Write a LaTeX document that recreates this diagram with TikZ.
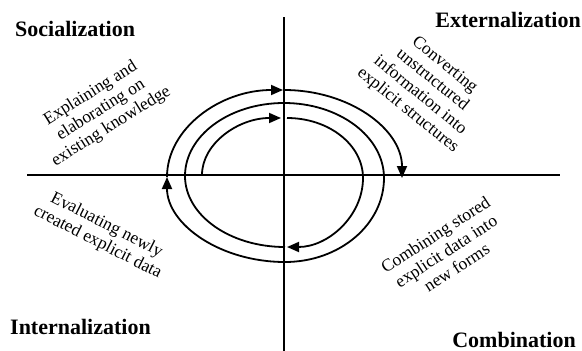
\documentclass[tikz,border=0pt]{standalone}
\usepackage{fontspec}
\setmainfont{Liberation Serif}
\usetikzlibrary{arrows.meta}
\tikzset{
  axisline/.style={line width=1.6pt},
  spiral/.style={line width=1.8pt},
  tipped/.style={spiral, -{Triangle[length=12pt,width=10pt]}},
  quadlabel/.style={font=\fontsize{22}{24}\selectfont\bfseries, inner sep=0pt},
  desc/.style={font=\fontsize{17.5}{19.5}\selectfont, align=center, inner sep=0pt}
}
\begin{document}
\begin{tikzpicture}[x=1pt,y=-1pt]
\useasboundingbox (0,0) rectangle (582,351);
% axes
\coordinate (vt) at (284,17);
\coordinate (vb) at (284,351);
\coordinate (hl) at (27,175);
\coordinate (hr) at (560,175);
\draw[axisline] (vt) -- (vb);
\draw[axisline] (hl) -- (hr);
% spiral key points
\coordinate (L0) at (202,175);
\coordinate (T0a) at (281,118);
\coordinate (T0b) at (287,118);
\coordinate (R0) at (363,178);
\coordinate (B0a) at (287,247);
\coordinate (B0) at (285,247);
\coordinate (L1) at (185,176);
\coordinate (T1) at (284,103);
\coordinate (R1) at (384,178);
\coordinate (B1) at (285,262);
\coordinate (L2) at (167,177);
\coordinate (T2a) at (283,90);
\coordinate (T2) at (284,90);
\coordinate (R2) at (402,178);
% inner quarter to top
\draw[tipped] (L0) .. controls (202,143.5) and (238.3,118) .. (T0a);
% inner right half
\draw[tipped] (T0b) .. controls (329,118) and (363,144.9) .. (R0)
  .. controls (363,216.1) and (328.1,247) .. (B0a);
% middle turn
\draw[tipped] (B0) .. controls (229.8,247) and (185,215.2) .. (L1)
  .. controls (185,135.7) and (229.3,103) .. (T1)
  .. controls (339.2,103) and (384,136.6) .. (R1)
  .. controls (384,224.4) and (339.7,262) .. (B1)
  .. controls (219.8,262) and (167,224) .. (L2);
% outer
\draw[tipped] (L2) .. controls (167,129) and (219.4,90) .. (T2a);
\draw[tipped] (T2) .. controls (349.2,90) and (402,129) .. (R2);
% quadrant labels
\node[quadlabel, anchor=base west] (soc) at (15,36) {Socialization};
\node[quadlabel, anchor=base east] (ext) at (581,27) {Externalization};
\node[quadlabel, anchor=base west] (int) at (10,334) {Internalization};
\node[quadlabel, anchor=base east] (com) at (576,347) {Combination};
% descriptions
\node[desc, rotate=32] (d1) at (101,110) {Explaining and\\elaborating on\\existing knowledge};
\node[desc, rotate=-39] (d2) at (426,88) {Converting\\unstructured\\information into\\explicit structures};
\node[desc, rotate=-27] (d3) at (102,234) {Evaluating newly\\created explicit data};
\node[desc, rotate=33] (d4) at (446,251) {Combining stored\\explicit data into\\new forms};
\end{tikzpicture}
\end{document}
